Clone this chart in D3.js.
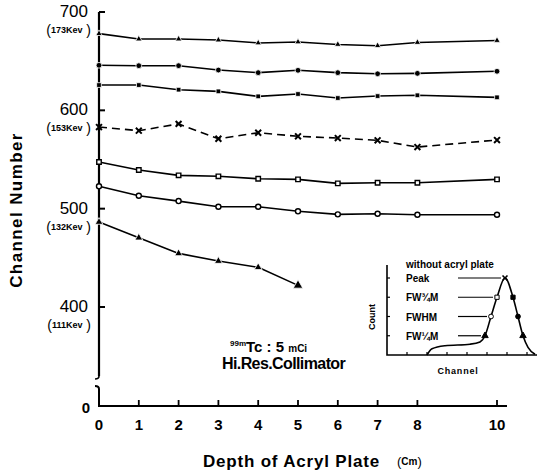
<!DOCTYPE html>
<html>
<head>
<meta charset="utf-8">
<script src="https://cdn.jsdelivr.net/npm/d3@7"></script>
<style>
  body { margin: 0; background: #fff; }
  text { font-family: "Liberation Sans", Arial, sans-serif; fill: #000; }
</style>
</head>
<body>
<script>
// depth of acryl plate (cm)
const depth = [0, 1, 2, 3, 4, 5, 6, 7, 8, 10];

// channel numbers
const upperQuarter = [678, 672.5, 672.5, 671.5, 668.5, 669.5, 667, 665.7, 669, 671];
const upperHalf = [645.8, 645.4, 645.4, 641, 638.3, 640.7, 638.3, 637.2, 637.6, 639.7];
const upperThreeQuarter = [625.7, 625.7, 621, 619.3, 614.2, 616.6, 612.5, 614.5, 615.3, 613.2];
const peak = [583, 579.3, 586.2, 571.1, 577.2, 573.6, 571.8, 569.5, 562.7, 569.8];
const lowerThreeQuarter = [547.4, 539.3, 533.9, 532.9, 530.4, 529.8, 525.7, 526.4, 526.4, 529.8];
const lowerHalf = [522.7, 513.1, 507.7, 501.9, 501.9, 497.3, 494.2, 494.8, 493.8, 493.8];
const lowerQuarter = [486.4, 470.4, 454.5, 446.7, 440.3, 422];

const yTicks = [700, 600, 500, 400];
const yKev = ["173Kev", "153Kev", "132Kev", "111Kev"];
const xTicks = [0, 1, 2, 3, 4, 5, 6, 7, 8, 10];

// inset spectrum (channel, relative count)
const insetChan = [40, 45, 58, 83, 93, 98, 104, 110, 118, 126, 131, 136, 141, 148];
const insetCount = [0, 0.08, 0.12, 0.14, 0.17, 0.25, 0.5, 0.75, 1, 0.75, 0.5, 0.25, 0.1, 0.01];
const insetLabels = ["Peak", "FW¾M", "FWHM", "FW¼M"];
const insetLevels = [1, 0.75, 0.5, 0.25];

const width = 542, height = 474;
const svg = d3.select("body").append("svg").attr("width", width).attr("height", height);

const x = d3.scaleLinear().domain([0, 10]).range([99, 497]);
const y = d3.scaleLinear().domain([400, 700]).range([307, 12]);
const baseY = 406;

// axes
const axisG = svg.append("g").attr("stroke", "#000").attr("fill", "none");
axisG.append("line").attr("x1", 99).attr("x2", 99).attr("y1", y(700)).attr("y2", 376).attr("stroke-width", 2.2);
axisG.append("path").attr("d", "M99,376 Q99,379 95,379").attr("stroke-width", 1.6);
axisG.append("path").attr("d", "M95,386 Q99,386 99,389 L99," + baseY).attr("stroke-width", 2);
axisG.append("line").attr("x1", 98).attr("x2", 507).attr("y1", baseY).attr("y2", baseY).attr("stroke-width", 2);
yTicks.forEach(t => {
  axisG.append("line").attr("x1", 99).attr("x2", 105).attr("y1", y(t)).attr("y2", y(t)).attr("stroke-width", 2);
});
xTicks.forEach(t => {
  axisG.append("line").attr("x1", x(t)).attr("x2", x(t)).attr("y1", baseY).attr("y2", baseY - 6).attr("stroke-width", 1.8);
});

// y tick labels
yTicks.forEach((t, i) => {
  svg.append("text").attr("x", 88).attr("y", y(t) + 5).attr("text-anchor", "end")
    .attr("font-size", 17).text(t);
  const k = svg.append("text").attr("x", 91).attr("y", y(t) + 23).attr("text-anchor", "end");
  k.append("tspan").attr("font-size", 14).text("(");
  k.append("tspan").attr("font-size", 9).attr("font-weight", "bold").attr("dy", -2).text(yKev[i]);
  k.append("tspan").attr("font-size", 14).attr("dy", 2).text(" )");
});
svg.append("text").attr("x", 90).attr("y", baseY + 7).attr("text-anchor", "end")
  .attr("font-size", 15).attr("font-weight", "bold").text("0");

// x tick labels
xTicks.forEach(t => {
  svg.append("text").attr("x", x(t)).attr("y", baseY + 24).attr("text-anchor", "middle")
    .attr("font-size", 15).attr("font-weight", "bold").text(t);
});

// axis titles
svg.append("text").attr("transform", "translate(22,210) rotate(-90)").attr("text-anchor", "middle")
  .attr("font-size", 17).attr("font-weight", "bold").attr("letter-spacing", 1.4).text("Channel Number");
svg.append("text").attr("x", 203).attr("y", 467).attr("font-size", 17).attr("font-weight", "bold")
  .attr("letter-spacing", 0.8).text("Depth of Acryl Plate");
const cm = svg.append("text").attr("x", 397).attr("y", 466);
cm.append("tspan").attr("font-size", 13).text("(");
cm.append("tspan").attr("font-size", 10).attr("font-weight", "bold").attr("dy", -1).text("Cm");
cm.append("tspan").attr("font-size", 13).attr("dy", 1).text(")");

// series
const series = [
  { values: upperQuarter, sym: d3.symbolTriangle, size: 18, fill: "#000" },
  { values: upperHalf, sym: d3.symbolCircle, size: 26, fill: "#000" },
  { values: upperThreeQuarter, sym: d3.symbolSquare, size: 22, fill: "#000" },
  { values: peak, sym: d3.symbolTimes, size: 24, fill: "none", dash: "8,5" },
  { values: lowerThreeQuarter, sym: d3.symbolSquare, size: 20, fill: "#fff" },
  { values: lowerHalf, sym: d3.symbolCircle, size: 20, fill: "#fff" },
  { values: lowerQuarter, sym: d3.symbolTriangle, size: 26, fill: "#000" }
];

const line = d3.line().x(d => x(d[0])).y(d => y(d[1]));

series.forEach(s => {
  const pts = s.values.map((v, i) => [depth[i], v]);
  svg.append("path").datum(pts).attr("d", line)
    .attr("fill", "none").attr("stroke", "#000").attr("stroke-width", 1.6)
    .attr("stroke-dasharray", s.dash || null);
  svg.selectAll(null).data(pts).enter().append("path")
    .attr("transform", d => `translate(${x(d[0])},${y(d[1])})`)
    .attr("d", (d, i) => d3.symbol().type(s.sym).size(s === series[6] && i === pts.length - 1 ? 40 : s.size)())
    .attr("fill", s.fill)
    .attr("stroke", s.sym === d3.symbolTimes || s.fill === "#fff" ? "#000" : "#fff")
    .attr("stroke-width", s.sym === d3.symbolTimes ? 2 : (s.fill === "#fff" ? 1.4 : 0.8));
});

// annotation
const ann = svg.append("text").attr("x", 230).attr("y", 352).attr("font-weight", "bold");
ann.append("tspan").attr("font-size", 8).attr("dy", -6).text("99m");
ann.append("tspan").attr("font-size", 15).attr("dy", 6).text("Tc : 5 ");
ann.append("tspan").attr("font-size", 10).text("mCi");
svg.append("text").attr("x", 222).attr("y", 369).attr("font-size", 16).attr("font-weight", "bold")
  .attr("letter-spacing", -0.6).text("Hi.Res.Collimator");

// inset
const ix = d3.scaleLinear().domain([0, 150]).range([387, 537]);
const iy = d3.scaleLinear().domain([0, 1]).range([355, 278]);
const inset = svg.append("g");
inset.append("path").attr("d", `M${ix(0)},${iy(1.17)} L${ix(0)},${iy(0)} L${ix(150)},${iy(0)}`)
  .attr("fill", "none").attr("stroke", "#000").attr("stroke-width", 1.6);
insetLevels.forEach(l => {
  inset.append("line").attr("x1", ix(0)).attr("x2", ix(3)).attr("y1", iy(l)).attr("y2", iy(l)).attr("stroke", "#000").attr("stroke-width", 1.2);
});
d3.range(20, 150, 20).forEach(c => {
  inset.append("line").attr("x1", ix(c)).attr("x2", ix(c)).attr("y1", iy(0)).attr("y2", iy(0) - 3).attr("stroke", "#000").attr("stroke-width", 1.2);
});
const icurve = d3.line().x(d => ix(d[0])).y(d => iy(d[1])).curve(d3.curveMonotoneX);
inset.append("path").datum(insetChan.map((c, i) => [c, insetCount[i]])).attr("d", icurve)
  .attr("fill", "none").attr("stroke", "#000").attr("stroke-width", 1.6);

// markers on the spectrum: left side, right side
const leftMarks = [[118, 1, d3.symbolTimes, "none"], [110, 0.75, d3.symbolSquare, "#fff"], [104, 0.5, d3.symbolCircle, "#fff"], [98, 0.25, d3.symbolTriangle, "#000"]];
const rightMarks = [[126, 0.75, d3.symbolSquare, "#000"], [131, 0.5, d3.symbolCircle, "#000"], [136, 0.25, d3.symbolTriangle, "#000"]];
leftMarks.concat(rightMarks).forEach(m => {
  inset.append("path").attr("transform", `translate(${ix(m[0])},${iy(m[1])})`)
    .attr("d", d3.symbol().type(m[2]).size(18)())
    .attr("fill", m[3]).attr("stroke", "#000").attr("stroke-width", m[2] === d3.symbolTimes ? 1.6 : 1);
});
insetLabels.forEach((lab, i) => {
  inset.append("text").attr("x", 406).attr("y", iy(insetLevels[i]) + 4).attr("font-size", 10)
    .attr("font-weight", "bold").text(lab);
  inset.append("line").attr("x1", 458).attr("x2", ix(leftMarks[i][0]) - 4)
    .attr("y1", iy(insetLevels[i])).attr("y2", iy(insetLevels[i])).attr("stroke", "#000").attr("stroke-width", 1.2);
});
inset.append("text").attr("x", 406).attr("y", 268).attr("font-size", 10).attr("font-weight", "bold").text("without acryl plate");
inset.append("text").attr("transform", "translate(375,317) rotate(-90)").attr("text-anchor", "middle")
  .attr("font-size", 9).attr("font-weight", "bold").text("Count");
inset.append("text").attr("x", 458).attr("y", 374).attr("text-anchor", "middle")
  .attr("font-size", 9).attr("font-weight", "bold").attr("letter-spacing", 0.8).text("Channel");
</script>
</body>
</html>
